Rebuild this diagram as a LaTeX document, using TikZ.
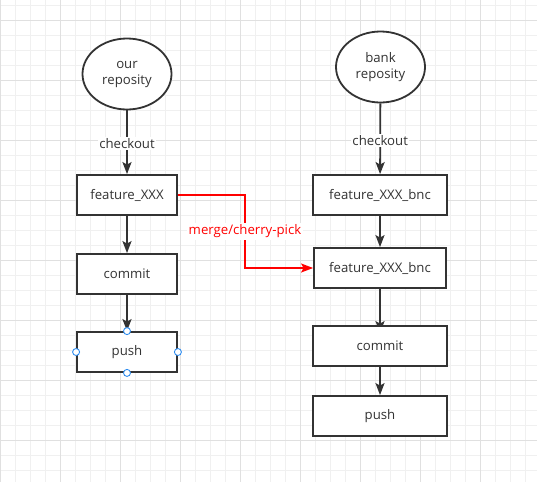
\documentclass[tikz,border=0pt]{standalone}
\usepackage{fontspec}
\setmainfont{Open Sans}
\usetikzlibrary{shapes.geometric,arrows.meta}
\definecolor{ink}{HTML}{333333}
\definecolor{gridminor}{HTML}{F0F0F0}
\definecolor{gridmajor}{HTML}{E0E0E0}
\definecolor{handle}{HTML}{2D8CF0}
\pgfdeclarelayer{gridlayer}
\pgfdeclarelayer{edgelayer}
\pgfsetlayers{gridlayer,edgelayer,main}
\tikzset{
  repo/.style={ellipse,draw=ink,line width=1.8pt,fill=white,minimum width=89pt,minimum height=71pt,inner sep=0pt,align=center,text=ink,font=\fontsize{13.2}{16}\selectfont},
  stepbox/.style={rectangle,draw=ink,line width=1.8pt,fill=white,minimum height=40pt,inner sep=0pt,text=ink,font=\fontsize{13.2}{15}\selectfont},
  flow/.style={draw=ink,line width=1.8pt,-{Stealth[length=12pt,width=9pt,inset=2.5pt]}},
  redflow/.style={draw=red,line width=1.4pt,-{Stealth[length=12pt,width=9pt,inset=2.5pt]}},
  lbl/.style={fill=white,inner sep=1.5pt,text=ink,font=\fontsize{13.2}{15}\selectfont},
  redlbl/.style={fill=white,inner sep=1.5pt,text=red,font=\fontsize{13.2}{15}\selectfont},
  hnd/.style={circle,draw=handle,fill=white,line width=0.9pt,minimum size=7pt,inner sep=0pt},
}
\begin{document}
\begin{tikzpicture}[x=1pt,y=-1pt]
\useasboundingbox (0,0) rectangle (537,482);
\begin{pgfonlayer}{gridlayer}
  \fill[white] (0,0) rectangle (537,482);
  \foreach \i in {0,15,...,540} \draw[gridminor,line width=1pt] (\i,0) -- (\i,482);
  \foreach \j in {5,20,...,485} \draw[gridminor,line width=1pt] (0,\j) -- (537,\j);
  \foreach \i in {0,60,...,540} \draw[gridmajor,line width=1pt] (\i,0) -- (\i,482);
  \foreach \j in {20,80,...,500} \draw[gridmajor,line width=1pt] (0,\j) -- (537,\j);
\end{pgfonlayer}

% left column
\node[repo] (our) at (127,74) {our\\reposity};
\node[stepbox,minimum width=100pt] (fx) at (127,195) {feature\_XXX};
\node[stepbox,minimum width=100pt] (cm1) at (127,274) {commit};
\node[stepbox,minimum width=100pt] (ps1) at (127,352) {push};

% right column
\node[repo] (bank) at (380.5,67) {bank\\reposity};
\node[stepbox,minimum width=134pt] (bnc1) at (380,195) {feature\_XXX\_bnc};
\node[stepbox,minimum width=132pt] (bnc2) at (380,268) {feature\_XXX\_bnc};
\node[stepbox,minimum width=134pt] (cm2) at (380,346) {commit};
\node[stepbox,minimum width=134pt] (ps2) at (380,416) {push};

\coordinate (bend1) at (245,195);
\coordinate (bend2) at (245,268);

\begin{pgfonlayer}{edgelayer}
  \draw[flow] (our) -- node[lbl,pos=0.52] {checkout} (fx);
  \draw[flow] (fx) -- (cm1);
  \draw[flow] (cm1) -- (ps1);
  \draw[flow] (bank) -- node[lbl,pos=0.52] {checkout} (bnc1);
  \draw[flow] (bnc1) -- (bnc2);
  \draw[flow,shorten >=-8pt] (bnc2.south) -- (cm2.north);
  \draw[flow] (cm2) -- (ps2);
\end{pgfonlayer}

\draw[redflow] (fx.east) -- (bend1) -- node[redlbl,pos=0.5] {merge/cherry-pick} (bend2) -- (bnc2.west);

% selection handles on push
\node[hnd] (h1) at (ps1.north) {};
\node[hnd] (h2) at (ps1.south) {};
\node[hnd] (h3) at (ps1.west) {};
\node[hnd] (h4) at (ps1.east) {};
\end{tikzpicture}
\end{document}
